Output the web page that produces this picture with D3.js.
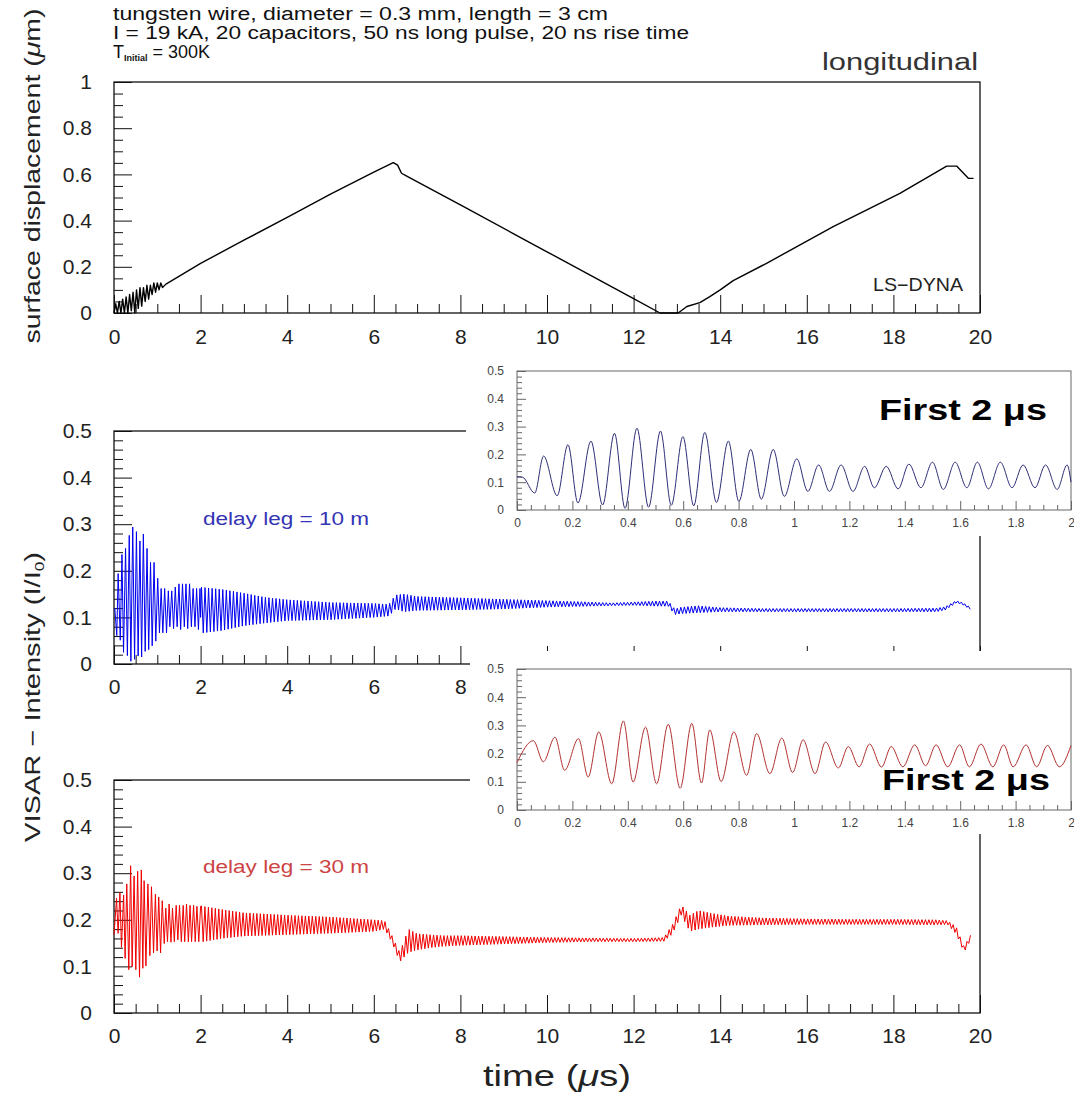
<!DOCTYPE html>
<html>
<head>
<meta charset="utf-8">
<script src="https://cdn.jsdelivr.net/npm/d3@7"></script>
<style>
  body { margin: 0; background: #fff; }
  svg { display: block; }
  text { font-family: "Liberation Sans", Arial, sans-serif; }
</style>
</head>
<body>
<svg id="chart" width="1074" height="1099"></svg>
<script>
// surface displacement (um) vs time (us), LS-DYNA
var dispTime = [0, 0.04, 0.08, 0.12, 0.16, 0.2, 0.24, 0.28, 0.32, 0.36, 0.4, 0.44, 0.48, 0.52, 0.56,
    0.6, 0.64, 0.68, 0.72, 0.76, 0.8, 0.84, 0.88, 0.92, 0.96, 1.0, 1.04, 1.08, 1.12,
    1.2, 2, 3, 4, 5, 6, 6.45, 6.55, 6.64, 6.76, 8, 9.22, 10, 12, 12.61, 13.03, 13.23, 13.53,
    13.76, 14.0, 14.3, 15.07, 16.61, 18.15, 19.23, 19.46, 19.73, 19.85];
var dispValue = [0, 0.04, 0.0, 0.05, 0.0, 0.06, 0.0, 0.07, 0.0, 0.08, 0.01, 0.09, 0.0, 0.1, 0.02,
    0.11, 0.03, 0.11, 0.05, 0.12, 0.06, 0.12, 0.08, 0.13, 0.09, 0.13, 0.1, 0.13, 0.11,
    0.125, 0.215, 0.315, 0.414, 0.515, 0.61, 0.651, 0.64, 0.605, 0.593, 0.468, 0.344, 0.265, 0.062, 0, 0, 0.028, 0.045,
    0.071, 0.1, 0.14, 0.215, 0.374, 0.518, 0.636, 0.636, 0.583, 0.583];

// delay leg 10 m, first 2 us (peaks and troughs)
var early10Time = [0, 0.02, 0.064, 0.096, 0.145, 0.184, 0.22, 0.267, 0.309, 0.352, 0.39, 0.433, 0.475,
    0.518, 0.557, 0.599, 0.638, 0.678, 0.72, 0.763, 0.801, 0.844, 0.882, 0.925, 0.965, 1.01, 1.05,
    1.089, 1.128, 1.17, 1.213, 1.255, 1.29, 1.333, 1.376, 1.415, 1.458, 1.5, 1.539, 1.582, 1.624,
    1.662, 1.702, 1.745, 1.787, 1.827, 1.87, 1.908, 1.95, 1.986, 2.0];
var early10Value = [0.12, 0.118, 0.061, 0.194, 0.051, 0.235, 0.025, 0.248, 0.018, 0.276, 0.006, 0.294, 0.01,
    0.284, 0.017, 0.264, 0.015, 0.279, 0.027, 0.248, 0.031, 0.218, 0.039, 0.218, 0.049, 0.184, 0.067,
    0.162, 0.067, 0.162, 0.067, 0.157, 0.08, 0.157, 0.076, 0.165, 0.08, 0.172, 0.074, 0.172, 0.08,
    0.172, 0.076, 0.172, 0.08, 0.162, 0.08, 0.162, 0.074, 0.162, 0.1];

// delay leg 30 m, first 2 us
var early30Time = [0, 0.059, 0.095, 0.137, 0.172, 0.222, 0.257, 0.295, 0.342, 0.384, 0.419, 0.464, 0.504,
    0.546, 0.589, 0.631, 0.666, 0.696, 0.737, 0.783, 0.829, 0.865, 0.913, 0.956, 0.995, 1.033, 1.076,
    1.114, 1.16, 1.196, 1.235, 1.273, 1.316, 1.351, 1.393, 1.436, 1.475, 1.513, 1.555, 1.598, 1.633,
    1.675, 1.718, 1.757, 1.791, 1.838, 1.876, 1.915, 1.958, 2.0];
var early30Value = [0.168, 0.246, 0.171, 0.258, 0.141, 0.253, 0.117, 0.277, 0.093, 0.316, 0.099, 0.294, 0.093,
    0.304, 0.077, 0.307, 0.096, 0.284, 0.101, 0.277, 0.123, 0.271, 0.129, 0.255, 0.133, 0.249, 0.129,
    0.241, 0.149, 0.225, 0.153, 0.234, 0.152, 0.225, 0.153, 0.231, 0.157, 0.231, 0.153, 0.231, 0.153,
    0.234, 0.153, 0.231, 0.153, 0.231, 0.153, 0.229, 0.153, 0.229];

// after 2 us the fringes are too dense to read one by one: upper / lower envelope
var band10Time = [2, 2.5, 3, 3.5, 4, 5, 6, 6.35, 6.5, 6.7, 7, 8, 9, 10, 11, 11.5, 12, 12.5, 12.8,
    12.95, 13.1, 13.5, 14, 15, 16, 17, 18, 19, 19.2, 19.45, 19.6, 19.8];
var band10Hi = [0.165, 0.16, 0.152, 0.143, 0.138, 0.132, 0.13, 0.128, 0.148, 0.15, 0.145, 0.142, 0.139, 0.136,
    0.133, 0.131, 0.133, 0.135, 0.135, 0.118, 0.122, 0.125, 0.121, 0.119, 0.119, 0.119, 0.119, 0.12,
    0.123, 0.136, 0.132, 0.12];
var band10Lo = [0.066, 0.072, 0.082, 0.088, 0.093, 0.095, 0.1, 0.103, 0.118, 0.112, 0.115, 0.116, 0.118, 0.122,
    0.124, 0.125, 0.126, 0.124, 0.124, 0.106, 0.108, 0.11, 0.112, 0.112, 0.112, 0.112, 0.112, 0.112,
    0.116, 0.131, 0.127, 0.116];

var band30Time = [2, 2.5, 3, 4, 5, 6, 6.25, 6.4, 6.6, 6.8, 7.0, 7.3, 7.6, 8, 9, 10, 11, 12, 12.7,
    12.9, 13.1, 13.3, 13.5, 13.8, 14.2, 15, 16, 17, 18, 19, 19.25, 19.45, 19.63, 19.8];
var band30Hi = [0.23, 0.222, 0.215, 0.21, 0.206, 0.2, 0.198, 0.17, 0.13, 0.18, 0.17, 0.168, 0.166, 0.166,
    0.164, 0.162, 0.161, 0.16, 0.162, 0.19, 0.232, 0.21, 0.22, 0.214, 0.208, 0.204, 0.202, 0.201,
    0.201, 0.2, 0.198, 0.185, 0.142, 0.17];
var band30Lo = [0.152, 0.16, 0.165, 0.168, 0.171, 0.175, 0.18, 0.155, 0.11, 0.13, 0.135, 0.14, 0.143, 0.145,
    0.148, 0.151, 0.153, 0.153, 0.154, 0.17, 0.21, 0.175, 0.18, 0.184, 0.188, 0.189, 0.19, 0.19,
    0.19, 0.189, 0.19, 0.17, 0.13, 0.16];

// fringe half period (us)
var halfPeriod10 = 0.041;
var halfPeriod30 = 0.04;

var mainXTicks = [0, 2, 4, 6, 8, 10, 12, 14, 16, 18, 20];
var dispYTicks = [0, 0.2, 0.4, 0.6, 0.8, 1];
var visarYTicks = [0, 0.1, 0.2, 0.3, 0.4, 0.5];
var insetXTicks = [0, 0.2, 0.4, 0.6, 0.8, 1, 1.2, 1.4, 1.6, 1.8, 2];

var headerLines = ['tungsten wire, diameter = 0.3 mm, length = 3 cm',
    'I = 19 kA, 20 capacitors, 50 ns long pulse, 20 ns rise time'];

var svg = d3.select('#chart');
var fmt = d3.format('~g');

function pairs(ts, vs) {
    return ts.map(function(t, i) { return [t, vs[i]]; });
}

// alternate between the envelopes every half period
function fringes(ts, hi, lo, half) {
    var hiS = d3.scaleLinear().domain(ts).range(hi);
    var loS = d3.scaleLinear().domain(ts).range(lo);
    var out = [];
    var up = true;
    var tEnd = ts[ts.length - 1];
    for (var t = ts[0] + half / 2; t <= tEnd; t += half) {
        out.push([t, up ? hiS(t) : loS(t)]);
        up = !up;
    }
    return out;
}

function minor(step, max, majorStep) {
    return d3.range(0, Math.round(max / step) + 1).map(function(i) { return +(i * step).toFixed(4); })
        .filter(function(v) { return Math.abs(v / majorStep - Math.round(v / majorStep)) > 1e-6; });
}

function panel(o) {
    var x = d3.scaleLinear().domain(o.xDomain).range([o.left, o.right]);
    var y = d3.scaleLinear().domain(o.yDomain).range([o.bottom, o.top]);
    var g = svg.append('g');

    if (o.bg) {
        g.append('rect').attr('x', o.bg[0]).attr('y', o.bg[1])
            .attr('width', o.bg[2]).attr('height', o.bg[3]).attr('fill', '#fff');
    }

    var gx = g.append('g').attr('transform', 'translate(0,' + o.bottom + ')');
    gx.call(d3.axisBottom(x).tickValues(o.xMinor).tickSize(-o.minorLen).tickFormat(''));
    gx.append('g').call(d3.axisBottom(x).tickValues(o.xTicks).tickSize(-o.majorLen)
        .tickPadding(o.xPad).tickFormat(fmt));

    var gy = g.append('g').attr('transform', 'translate(' + o.left + ',0)');
    gy.call(d3.axisLeft(y).tickValues(o.yMinor).tickSize(-o.minorLen).tickFormat(''));
    gy.append('g').call(d3.axisLeft(y).tickValues(o.yTicks).tickSize(-o.majorLen)
        .tickPadding(o.yPad).tickFormat(fmt));

    g.selectAll('.domain').remove();
    g.selectAll('.tick line').attr('stroke', o.frameColor).attr('stroke-width', 1);
    g.selectAll('.tick text').attr('font-size', o.fontSize).attr('fill', o.labelColor)
        .attr('font-family', '"Liberation Sans", Arial, sans-serif');

    g.append('rect').attr('x', o.left).attr('y', o.top)
        .attr('width', o.right - o.left).attr('height', o.bottom - o.top)
        .attr('fill', 'none').attr('stroke', o.frameColor).attr('stroke-width', o.frameWidth);

    var line = d3.line().x(function(d) { return x(d[0]); }).y(function(d) { return y(d[1]); });
    if (o.curve) line.curve(o.curve);
    o.series.forEach(function(s) {
        g.append('path').datum(s.points).attr('d', line)
            .attr('fill', 'none').attr('stroke', s.color).attr('stroke-width', s.width)
            .attr('stroke-linejoin', 'round');
    });
    return g;
}

// ---- header ----
var header = svg.append('g').attr('fill', '#111');
header.append('text').attr('x', 113).attr('y', 20).attr('font-size', 18)
    .attr('textLength', 495).attr('lengthAdjust', 'spacingAndGlyphs').text(headerLines[0]);
header.append('text').attr('x', 113).attr('y', 39).attr('font-size', 18)
    .attr('textLength', 576).attr('lengthAdjust', 'spacingAndGlyphs').text(headerLines[1]);
var tInit = header.append('text').attr('x', 113).attr('y', 58).attr('font-size', 18);
tInit.append('tspan').text('T');
tInit.append('tspan').attr('font-size', 9).attr('font-weight', 'bold').attr('dy', 3).text('Initial');
tInit.append('tspan').attr('dy', -3).text(' = 300K');

svg.append('text').attr('x', 978).attr('y', 70).attr('font-size', 23).attr('fill', '#333')
    .attr('text-anchor', 'end').attr('textLength', 156).attr('lengthAdjust', 'spacingAndGlyphs')
    .text('longitudinal');

// ---- top: surface displacement ----
panel({
    left: 114, right: 980, top: 82, bottom: 313,
    xDomain: [0, 20], yDomain: [0, 1],
    xTicks: mainXTicks, xMinor: minor(0.5, 20, 2),
    yTicks: dispYTicks, yMinor: minor(0.05, 1, 0.2),
    majorLen: 18, minorLen: 9, xPad: 16, yPad: 22,
    fontSize: 21, labelColor: '#222', frameColor: '#111', frameWidth: 1.3,
    series: [{ points: pairs(dispTime, dispValue), color: '#000', width: 1.4 }]
});
svg.append('text').attr('x', 963).attr('y', 291).attr('font-size', 18).attr('fill', '#222')
    .attr('text-anchor', 'end').attr('textLength', 90).attr('lengthAdjust', 'spacingAndGlyphs')
    .text('LS\u2212DYNA');

// ---- middle: delay leg 10 m ----
panel({
    left: 114, right: 980, top: 431, bottom: 664,
    xDomain: [0, 20], yDomain: [0, 0.5],
    xTicks: mainXTicks, xMinor: minor(0.5, 20, 2),
    yTicks: visarYTicks, yMinor: minor(0.02, 0.5, 0.1),
    majorLen: 18, minorLen: 9, xPad: 15, yPad: 22,
    fontSize: 21, labelColor: '#222', frameColor: '#111', frameWidth: 1.3,
    series: [{ points: pairs(early10Time, early10Value).concat(fringes(band10Time, band10Hi, band10Lo, halfPeriod10)),
               color: '#0000f0', width: 1 }]
});
svg.append('text').attr('x', 203).attr('y', 525).attr('font-size', 18).attr('fill', '#3434b4')
    .attr('textLength', 166).attr('lengthAdjust', 'spacingAndGlyphs').text('delay leg = 10 m');

// ---- bottom: delay leg 30 m ----
panel({
    left: 114, right: 980, top: 780, bottom: 1013,
    xDomain: [0, 20], yDomain: [0, 0.5],
    xTicks: mainXTicks, xMinor: minor(0.5, 20, 2),
    yTicks: visarYTicks, yMinor: minor(0.02, 0.5, 0.1),
    majorLen: 18, minorLen: 9, xPad: 15, yPad: 22,
    fontSize: 21, labelColor: '#222', frameColor: '#111', frameWidth: 1.3,
    series: [{ points: pairs(early30Time, early30Value).concat(fringes(band30Time, band30Hi, band30Lo, halfPeriod30)),
               color: '#f00000', width: 1 }]
});
svg.append('text').attr('x', 203).attr('y', 873).attr('font-size', 18).attr('fill', '#cc4444')
    .attr('textLength', 166).attr('lengthAdjust', 'spacingAndGlyphs').text('delay leg = 30 m');

// ---- insets: first 2 us ----
var insetBase = {
    left: 517, right: 1071, xDomain: [0, 2], yDomain: [0, 0.5],
    xTicks: insetXTicks, xMinor: minor(0.05, 2, 0.2),
    yTicks: visarYTicks, yMinor: minor(0.02, 0.5, 0.1),
    majorLen: 9, minorLen: 5, xPad: 8, yPad: 13,
    fontSize: 12, labelColor: '#444', frameColor: '#666', frameWidth: 1,
    curve: d3.curveMonotoneX
};
panel(Object.assign({}, insetBase, {
    top: 371, bottom: 510, bg: [466, 356, 608, 180],
    series: [{ points: pairs(early10Time, early10Value), color: '#2e2e78', width: 1 }]
}));
panel(Object.assign({}, insetBase, {
    top: 669, bottom: 810, bg: [470, 651, 604, 183],
    series: [{ points: pairs(early30Time, early30Value), color: '#b23232', width: 1 }]
}));

function first2(xp, yp) {
    var t = svg.append('text').attr('x', xp).attr('y', yp).attr('font-size', 29)
        .attr('font-weight', 'bold').attr('font-family', '"DejaVu Sans", sans-serif').attr('fill', '#000')
        .attr('textLength', 168).attr('lengthAdjust', 'spacingAndGlyphs');
    t.text('First 2 \u03bcs');
}
first2(879, 420);
first2(882, 790);

// ---- axis titles ----
svg.append('text').attr('transform', 'translate(40,176) rotate(-90)').attr('text-anchor', 'middle')
    .attr('font-size', 22).attr('fill', '#222').attr('textLength', 335).attr('lengthAdjust', 'spacingAndGlyphs')
    .html('surface displacement (<tspan font-style="italic">\u03bc</tspan>m)');

var vt = svg.append('text').attr('transform', 'translate(40,697) rotate(-90)').attr('text-anchor', 'middle')
    .attr('font-size', 22).attr('fill', '#222').attr('textLength', 290).attr('lengthAdjust', 'spacingAndGlyphs');
vt.append('tspan').text('VISAR \u2212 Intensity (I/I');
vt.append('tspan').attr('font-size', 13).attr('dy', 4).text('0');
vt.append('tspan').attr('dy', -4).text(')');

svg.append('text').attr('x', 557).attr('y', 1086).attr('text-anchor', 'middle')
    .attr('font-size', 30).attr('fill', '#222').attr('textLength', 148).attr('lengthAdjust', 'spacingAndGlyphs')
    .html('time (<tspan font-style="italic">\u03bc</tspan>s)');
</script>
</body>
</html>
